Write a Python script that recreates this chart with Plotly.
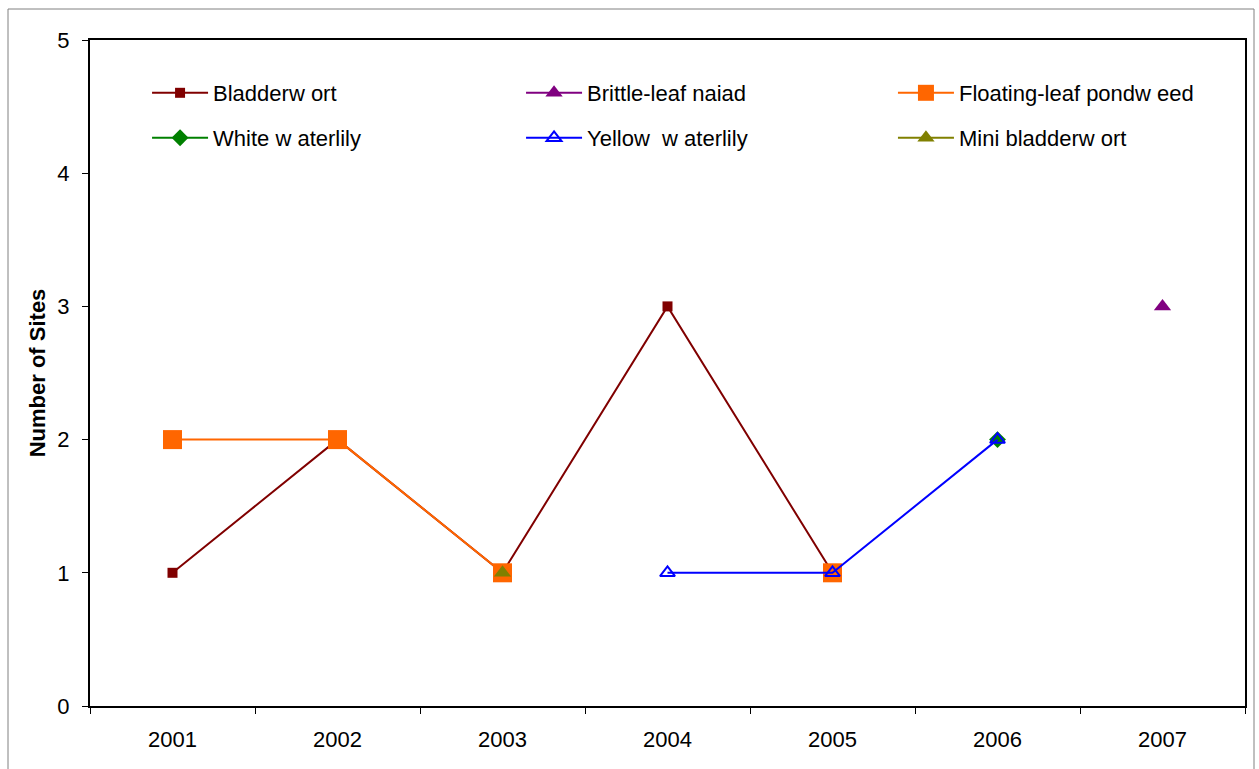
import plotly.graph_objects as go

years = ["2001", "2002", "2003", "2004", "2005", "2006", "2007"]

bladderwort = [1, 2, 1, 3, 1, None, None]
brittle_leaf_naiad = [None, None, None, None, None, None, 3]
floating_leaf_pondweed = [2, 2, 1, None, 1, None, None]
white_waterlily = [None, None, None, None, None, 2, None]
yellow_waterlily = [None, None, None, 1, 1, 2, None]
mini_bladderwort = [None, None, 1, None, None, None, None]

# name, values, colour, marker symbol, marker size, marker outline width
series = [
    ("Bladderw ort", bladderwort, "#800000", "square", 10, None),
    ("Brittle-leaf naiad", brittle_leaf_naiad, "#800080", "triangle-up", 15, None),
    ("Floating-leaf pondw eed", floating_leaf_pondweed, "#FF6600", "square", 19, None),
    ("White w aterlily", white_waterlily, "#008000", "diamond", 13, None),
    ("Yellow  w aterlily", yellow_waterlily, "#0000FF", "triangle-up-open", 13, 2),
    ("Mini bladderw ort", mini_bladderwort, "#808000", "triangle-up", 15, None),
]

font = "Liberation Sans, Arial, sans-serif"

# one legend box per entry, laid out as a 3 x 2 grid
col_x = [0.0494, 0.3732, 0.6952]
row_y = [(706 - 93) / 666, (706 - 138) / 666]

fig = go.Figure()
legend_layout = {}
for i, (name, vals, color, symbol, size, mlw) in enumerate(series):
    marker = dict(color=color, symbol=symbol, size=size)
    if mlw:
        marker["line"] = dict(color=color, width=mlw)
    key = "legend" if i == 0 else f"legend{i + 1}"
    fig.add_trace(go.Scatter(
        x=years, y=vals, name=name, mode="lines+markers",
        line=dict(color=color, width=2), marker=marker,
        connectgaps=False, legend=key,
    ))
    legend_layout[key] = dict(
        x=col_x[i % 3], y=row_y[i // 3], xanchor="left", yanchor="middle",
        orientation="v", itemwidth=56,
        font=dict(family=font, size=22, color="black"),
        bgcolor="rgba(0,0,0,0)", borderwidth=0, itemclick=False,
        itemdoubleclick=False,
    )

fig.update_layout(
    width=1259, height=769,
    margin=dict(l=90, r=14, t=40, b=63),
    paper_bgcolor="white", plot_bgcolor="white",
    font=dict(family=font, size=22, color="black"),
    showlegend=True,
    xaxis=dict(
        type="category", categoryorder="array", categoryarray=years,
        range=[-0.5, 6.5], tickson="boundaries", ticks="outside", ticklen=6,
        tickcolor="black", tickwidth=1, showline=True, linecolor="black",
        linewidth=2, mirror=True, showgrid=False, zeroline=False,
        tickfont=dict(family=font, size=22), ticklabelstandoff=13,
        fixedrange=True,
    ),
    yaxis=dict(
        range=[0, 5], tickvals=[0, 1, 2, 3, 4, 5], ticks="outside", ticklen=6,
        tickcolor="black", tickwidth=1, showline=True, linecolor="black",
        linewidth=2, mirror=True, showgrid=False, zeroline=False,
        tickfont=dict(family=font, size=22), ticklabelstandoff=8,
        title=dict(text="<b>Number of Sites</b>", font=dict(family=font, size=22), standoff=6),
        fixedrange=True,
    ),
    **legend_layout,
)

# outer chart frame
fig.add_shape(
    type="rect", xref="paper", yref="paper",
    x0=(8 - 90) / 1155, x1=(1254 - 90) / 1155,
    y0=(706 - 790) / 666, y1=(706 - 9) / 666,
    line=dict(color="#808080", width=1), fillcolor="rgba(0,0,0,0)", layer="below",
)

fig.write_html("out.html")
